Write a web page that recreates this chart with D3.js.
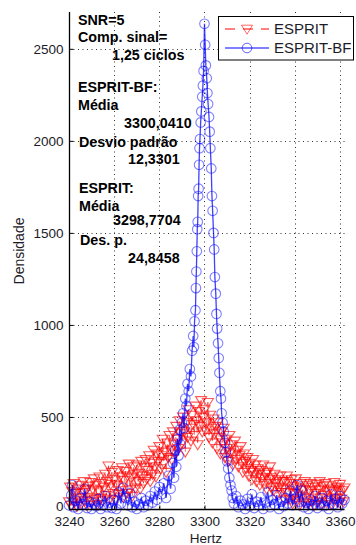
<!DOCTYPE html>
<html>
<head>
<meta charset="utf-8">
<script src="https://cdn.jsdelivr.net/npm/d3@7/dist/d3.min.js"></script>
<style>
  html, body { margin: 0; padding: 0; background: #fff; }
  svg { display: block; font-family: "Liberation Sans", Arial, sans-serif; }
</style>
</head>
<body>
<svg id="chart" width="356" height="545"></svg>
<script>
// ---- Data ----
const xTicks = [3240, 3260, 3280, 3300, 3320, 3340, 3360];
const yTicks = [0, 500, 1000, 1500, 2000, 2500];

// ESPRIT: density sampled every 0.5 Hz from 3240 to 3362
const espritHz = d3.range(3240, 3362.01, 0.5);
const espritDens = [
  40, 120, 20, 95, 140, 35, 85, 15, 110, 60,
  130, 30, 90, 150, 45, 105, 20, 125, 65, 145,
  40, 110, 165, 55, 130, 25, 100, 175, 60, 140,
  45, 120, 190, 75, 150, 235, 55, 135, 200, 85,
  160, 50, 130, 210, 80, 175, 100, 225, 65, 155,
  205, 85, 180, 245, 105, 170, 70, 230, 190, 115,
  240, 150, 195, 110, 260, 180, 140, 225, 270, 165,
  210, 290, 150, 250, 190, 320, 230, 175, 300, 260,
  340, 220, 290, 380, 250, 310, 200, 360, 280, 400,
  320, 270, 420, 350, 300, 450, 380, 330, 480, 410,
  360, 500, 420, 310, 470, 390, 540, 440, 370, 510,
  460, 400, 560, 480, 350, 530, 450, 590, 420, 500,
  540, 430, 470, 580, 390, 510, 440, 360, 490, 410,
  450, 330, 470, 390, 300, 420, 360, 440, 280, 380,
  330, 260, 400, 310, 350, 240, 300, 370, 270, 320,
  230, 290, 340, 250, 200, 300, 260, 220, 280, 180,
  250, 210, 160, 270, 200, 240, 150, 220, 190, 130,
  210, 170, 240, 140, 190, 110, 200, 160, 230, 120,
  170, 100, 190, 140, 80, 160, 120, 180, 90, 150,
  110, 50, 150, 180, 90, 140, 55, 160, 30, 125,
  85, 165, 45, 115, 20, 140, 70, 105, 35, 150,
  60, 130, 30, 100, 140, 45, 120, 20, 85, 135,
  40, 105, 150, 60, 25, 125, 75, 140, 35, 100,
  130, 50, 110, 25, 95, 145, 60, 120, 35, 105,
  135, 55, 100, 40, 115
];

// ESPRIT-BF
const bfHz = [
  3240, 3241, 3241.5, 3242, 3243, 3244, 3245, 3246, 3247, 3248, 3249,
  3250, 3251, 3252, 3253, 3254, 3255, 3256, 3257, 3258, 3259,
  3260, 3261, 3262, 3263, 3264, 3265, 3266, 3267, 3268, 3269,
  3270, 3271, 3272, 3273, 3274, 3275, 3276, 3277, 3278, 3279,
  3280, 3281, 3282, 3283, 3284, 3285, 3286, 3286.5, 3287, 3287.5,
  3288, 3288.5, 3289, 3289.5, 3290, 3290.5, 3291, 3291.5, 3292, 3292.5,
  3293, 3293.5, 3294, 3294.5, 3295, 3295.3, 3295.6, 3296, 3296.2, 3296.4,
  3296.6, 3296.8, 3297, 3297.2, 3297.4, 3297.6, 3297.8, 3298, 3298.3, 3298.6,
  3299, 3299.3, 3299.6, 3300, 3300.3, 3300.6, 3301, 3301.3, 3301.6, 3302,
  3302.3, 3302.6, 3303, 3303.3, 3303.6, 3304, 3304.3, 3304.6, 3305, 3305.3,
  3305.6, 3306, 3306.3, 3306.6, 3307, 3307.3, 3307.6, 3308, 3308.5, 3309,
  3309.5, 3310, 3310.5, 3311, 3311.5, 3312, 3312.5, 3313, 3314, 3315, 3316,
  3317, 3318, 3319, 3320, 3321, 3322, 3323, 3324, 3325, 3326,
  3327, 3328, 3329, 3330, 3331, 3332, 3333, 3334, 3335, 3336,
  3337, 3338, 3339, 3340, 3341, 3342, 3343, 3344, 3345, 3346,
  3347, 3348, 3349, 3350, 3351, 3352, 3353, 3354, 3355, 3356,
  3357, 3358, 3359, 3360, 3361, 3362
];
const bfDens = [
  20, 75, 130, 10, 45, 0, 60, 25, 110, 5, 40,
  0, 30, 15, 55, 0, 20, 70, 10, 35, 5,
  50, 0, 90, 30, 115, 60, 20, 85, 10, 40,
  0, 25, 60, 10, 45, 20, 70, 35, 95, 50,
  120, 80, 140, 60, 180, 110, 250, 170, 320, 230,
  380, 290, 430, 350, 470, 520, 440, 600, 560, 680,
  640, 760, 720, 860, 940, 880, 1020, 1080, 1200, 1290,
  1400, 1520, 1560, 1700, 1740, 1870, 1960, 2010, 2100, 2160,
  2240, 2300, 2380, 2636, 2522, 2410, 2340, 2260, 2200, 2130,
  2050, 1960, 1850, 1700, 1620, 1500, 1410, 1260, 1170, 1060,
  980, 900, 820, 740, 640, 600, 520, 470, 420, 360,
  310, 260, 220, 170, 130, 100, 60, 30, 70, 10, 45,
  25, 0, 55, 15, 80, 5, 40, 20, 65, 0,
  35, 90, 10, 50, 25, 75, 0, 40, 15, 60,
  30, 100, 20, 55, 130, 40, 100, 10, 35, 0,
  50, 20, 70, 5, 30, 60, 15, 45, 0, 80,
  25, 55, 10, 70, 30, 50
];

const seriesNames = ["ESPRIT", "ESPRIT-BF"];
const notes = [
  { t: "SNR=5", x: 78, y: 25 },
  { t: "Comp. sinal=", x: 78, y: 42 },
  { t: "1,25 ciclos", x: 112, y: 60 },
  { t: "ESPRIT-BF:", x: 78, y: 92 },
  { t: "Média", x: 78, y: 110 },
  { t: "3300,0410", x: 124, y: 128 },
  { t: "Desvio padrão", x: 79, y: 147 },
  { t: "12,3301", x: 128, y: 164 },
  { t: "ESPRIT:", x: 79, y: 193 },
  { t: "Média", x: 79, y: 211 },
  { t: "3298,7704", x: 113, y: 225 },
  { t: "Des. p.", x: 80, y: 245 },
  { t: "24,8458", x: 128, y: 263 }
];

// ---- Drawing ----
const svg = d3.select("#chart");
const x = d3.scaleLinear().domain([3240, 3362]).range([69, 344.5]);
const y = d3.scaleLinear().domain([0, 2700]).range([509, 12]);

// grid
const grid = svg.append("g").attr("stroke", "#333").attr("stroke-width", 1)
  .attr("stroke-dasharray", "1,3.5");
grid.selectAll("line.v").data(xTicks.slice(1)).join("line")
  .attr("x1", d => Math.round(x(d)) + 0.5).attr("x2", d => Math.round(x(d)) + 0.5)
  .attr("y1", y(2700)).attr("y2", y(0));
grid.selectAll("line.h").data(yTicks.slice(1)).join("line")
  .attr("y1", d => Math.round(y(d)) + 0.5).attr("y2", d => Math.round(y(d)) + 0.5)
  .attr("x1", x(3240)).attr("x2", x(3362));

// triangle symbol (pointing down)
const triPath = "M-5.5,-3.8L5.5,-3.8L0,5.2Z";

// ESPRIT series
const espData = espritHz.map((h, i) => [h, espritDens[i]]);
const lineGen = d3.line().x(d => x(d[0])).y(d => y(d[1]));
svg.append("path").datum(espData).attr("d", lineGen)
  .attr("fill", "none").attr("stroke", "#ff0000").attr("stroke-opacity", 0.6)
  .attr("stroke-width", 1).attr("stroke-dasharray", "6,4");
svg.append("g").selectAll("path").data(espData).join("path")
  .attr("d", triPath)
  .attr("transform", d => `translate(${x(d[0])},${y(d[1])})`)
  .attr("fill", "none").attr("stroke", "#ff0000").attr("stroke-opacity", 0.65)
  .attr("stroke-width", 1.1);

// ESPRIT-BF series
const bfData = bfHz.map((h, i) => [h, bfDens[i]]);
svg.append("path").datum(bfData).attr("d", lineGen)
  .attr("fill", "none").attr("stroke", "#0000ff").attr("stroke-opacity", 0.75)
  .attr("stroke-width", 1.3);
svg.append("g").selectAll("circle").data(bfData).join("circle")
  .attr("cx", d => x(d[0])).attr("cy", d => y(d[1])).attr("r", 4.8)
  .attr("fill", "none").attr("stroke", "#0000ff").attr("stroke-opacity", 0.5)
  .attr("stroke-width", 1.1);

// axes
const fmt = d3.format("d");
const xAxis = d3.axisBottom(x).tickValues(xTicks).tickFormat(fmt).tickSize(-4).tickPadding(7);
const gx = svg.append("g").attr("transform", "translate(0,509.5)").call(xAxis);
const yAxis = d3.axisLeft(y).tickValues(yTicks).tickFormat(fmt).tickSize(-4).tickPadding(6);
const gy = svg.append("g").attr("transform", "translate(69.5,0)").call(yAxis);
[gx, gy].forEach(g => {
  g.select(".domain").attr("stroke", "#000").attr("stroke-width", 1.3);
  g.selectAll(".tick line").attr("stroke", "#000");
  g.selectAll(".tick text").attr("fill", "#1c1c28")
    .style("font-size", "13.5px").style("font-family", "'Liberation Sans', Arial, sans-serif");
});
// lift the "0" label slightly so it clears the first x label
gy.selectAll(".tick").filter(d => d === 0).select("text").attr("y", -2.5);
gx.select(".domain").attr("d", `M${x(3240)},0H${x(3362)}`);
gy.select(".domain").attr("d", `M0,${y(0)}V${y(2700)}`);

// axis labels
svg.append("text").attr("x", 206).attr("y", 543).attr("text-anchor", "middle")
  .style("font-size", "13.5px").attr("fill", "#1c1c28").text("Hertz");
svg.append("text").attr("transform", "translate(24,251) rotate(-90)")
  .attr("text-anchor", "middle").style("font-size", "14px").attr("fill", "#1c1c28")
  .text("Densidade");

// annotations
svg.append("g").selectAll("text").data(notes).join("text")
  .attr("x", d => d.x).attr("y", d => d.y)
  .style("font-size", "14.3px").style("font-weight", "bold").attr("fill", "#000")
  .text(d => d.t);

// legend
const lg = svg.append("g");
lg.append("rect").attr("x", 218.5).attr("y", 16.5).attr("width", 135).attr("height", 43.5)
  .attr("fill", "#fff").attr("stroke", "#000").attr("stroke-width", 1);
const ly = [29, 48];
lg.append("line").attr("x1", 225).attr("x2", 269).attr("y1", ly[0]).attr("y2", ly[0])
  .attr("stroke", "#ff0000").attr("stroke-dasharray", "10,8").attr("stroke-dashoffset", 0);
lg.append("path").attr("d", triPath).attr("transform", `translate(247,${ly[0]})`)
  .attr("fill", "none").attr("stroke", "#ff0000").attr("stroke-opacity", 0.6);
lg.append("line").attr("x1", 225).attr("x2", 269).attr("y1", ly[1]).attr("y2", ly[1])
  .attr("stroke", "#0000ff");
lg.append("circle").attr("cx", 247).attr("cy", ly[1]).attr("r", 4.8)
  .attr("fill", "none").attr("stroke", "#0000ff").attr("stroke-opacity", 0.6);
lg.selectAll("text.lt").data(seriesNames).join("text")
  .attr("x", 274).attr("y", (d, i) => ly[i] + 5)
  .style("font-size", "15px").attr("fill", "#1c1c28").text(d => d);
</script>
</body>
</html>
